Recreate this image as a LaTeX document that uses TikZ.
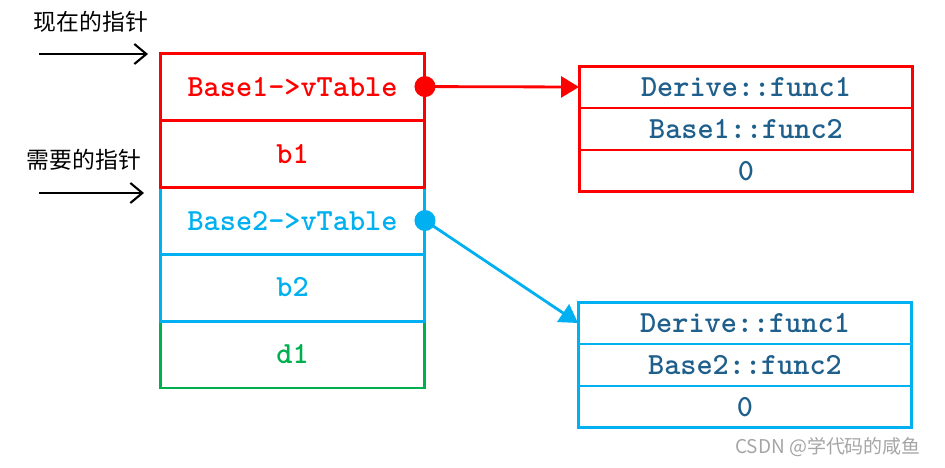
\documentclass[tikz,border=0pt]{standalone}
\usepackage{fontspec}
\newfontfamily\codefont{lmmonolt10-bold}[Extension=.otf]
\newfontfamily\cjk{Noto Sans CJK SC}
\usetikzlibrary{arrows.meta, positioning}
\definecolor{ptrred}{RGB}{255,0,0}
\definecolor{ptrblue}{RGB}{0,176,240}
\definecolor{ptrgreen}{RGB}{0,176,80}
\definecolor{functext}{RGB}{31,95,140}
\definecolor{markgray}{RGB}{165,165,165}

\begin{document}
\begin{tikzpicture}
[x=0.02cm, y=-0.02cm,
obj_cell/.style ={rectangle, draw, line width=1.7pt, minimum width=5.3cm, minimum height=1.34cm, outer sep=0, inner sep=0, font=\codefont\fontsize{17.5}{20}\selectfont},
vt_cell/.style ={rectangle, draw, line width=1.7pt, minimum width=6.68cm, minimum height=0.84cm, outer sep=0, inner sep=0, text=functext, font=\codefont\fontsize{17.5}{20}\selectfont},
ptr_label/.style ={inner sep=0, font=\cjk\fontsize{13}{15}\selectfont},
ptr_dot/.style ={circle, fill, inner sep=0, minimum size=0.42cm},
line_in/.style ={draw, line width=1.2pt, -{Straight Barb[length=0.24cm, width=0.4cm, line width=1.2pt]}},
line_out/.style ={draw, line width=1.6pt, -{Triangle[length=0.36cm, width=0.42cm]}}
]

\useasboundingbox (0,0) rectangle (945,467);

%%% Objekt (von unten nach oben) %%%
\node [obj_cell, draw=ptrgreen, text=ptrgreen] (d1) at (292.5,354.5) {d1};
\node [obj_cell, draw=ptrblue, text=ptrblue, above=0pt of d1] (b2) {b2};
\node [obj_cell, draw=ptrblue, text=ptrblue, above=0pt of b2] (base2) {Base2->vTable};
\node [obj_cell, draw=ptrred, text=ptrred, above=0pt of base2] (b1) {b1};
\node [obj_cell, draw=ptrred, text=ptrred, above=0pt of b1] (base1) {Base1->vTable};

%%% vTables %%%
\node [vt_cell, draw=ptrred] (t11) at (746,87) {Derive::func1};
\node [vt_cell, draw=ptrred, below=0pt of t11] (t12) {Base1::func2};
\node [vt_cell, draw=ptrred, below=0pt of t12] (t13) {0};

\node [vt_cell, draw=ptrblue] (t21) at (745,323) {Derive::func1};
\node [vt_cell, draw=ptrblue, below=0pt of t21] (t22) {Base2::func2};
\node [vt_cell, draw=ptrblue, below=0pt of t22] (t23) {0};

%%% Zeiger %%%
\node [ptr_label] (now) at (91,22) {现在的指针};
\node [ptr_label] (need) at (84,160) {需要的指针};
\coordinate (nowstart) at (39,54);
\coordinate (nowend) at (148,54);
\coordinate (needstart) at (39,193);
\coordinate (needend) at (144,193);
\draw [line_in] (nowstart) -- (nowend);
\draw [line_in] (needstart) -- (needend);

%%Pfeile%%%
\node [ptr_dot, fill=ptrred] (dot1) at (base1.east) {};
\node [ptr_dot, fill=ptrblue] (dot2) at (base2.east) {};
\draw [line_out, ptrred] (dot1.center) -- (t11.west);
\draw [line_out, ptrblue] (dot2.center) -- (t21.west);

\node [text=markgray, inner sep=0, font=\cjk\fontsize{10.8}{12}\selectfont] (mark) at (828,447) {CSDN @学代码的咸鱼};

\end{tikzpicture}
\end{document}
